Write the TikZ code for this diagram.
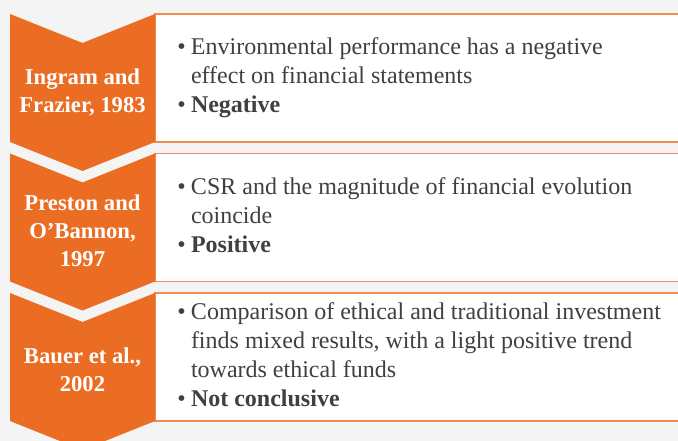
\documentclass[tikz,border=0pt]{standalone}
\usepackage{fontspec}
\setmainfont{Liberation Serif}
\usetikzlibrary{positioning}
\definecolor{litorange}{HTML}{EB6D24}
\definecolor{litline}{HTML}{F08C50}
\definecolor{litgrey}{HTML}{F4F4F4}
\definecolor{littext}{HTML}{404040}
\newcommand{\bul}{\textbullet}
\tikzset{
    chev/.style={fill=litorange},
    card/.style={draw=litline,line width=1.1pt,fill=white},
    who/.style={text=white,font=\fontsize{17}{21}\selectfont\bfseries,align=center,inner sep=0pt},
    finding/.style={text=littext,font=\fontsize{18}{21.75}\selectfont,anchor=west,inner sep=0pt},
}

\begin{document}
\begin{tikzpicture}[x=0.75pt,y=-0.75pt]
    \fill[litgrey] (0,0) rectangle (678,441);
    \useasboundingbox (0,0) rectangle (678,441);
    \clip (0,0) rectangle (678,441);

    % white result cards, open to the right
    \draw[card] (155,14) rectangle (700,142);
    \draw[card] (155,153.5) rectangle (700,281.5);
    \draw[card] (155,293) rectangle (700,421);

    % orange chevrons
    \fill[chev] (10,14) -- (82.5,43) -- (155,14) -- (155,142) -- (82.5,171) -- (10,142) -- cycle;
    \fill[chev] (10,153.5) -- (82.5,182.5) -- (155,153.5) -- (155,281.5) -- (82.5,310.5) -- (10,281.5) -- cycle;
    \fill[chev] (10,293) -- (82.5,322) -- (155,293) -- (155,421) -- (82.5,450) -- (10,421) -- cycle;

    \node[who] (ingram) at (82.5,92) {Ingram and\\Frazier, 1983};
    \node[who] (preston) at (82.5,231) {Preston and\\O’Bannon,\\1997};
    \node[who] (bauer) at (82.5,370) {Bauer et al.,\\2002};

    \node[finding] (neg) at (177,78) {\begin{tabular}{@{}l@{\hspace{4pt}}l@{}}
        \bul & Environmental performance has a negative\\
             & effect on financial statements\\
        \bul & \textbf{Negative}
    \end{tabular}};
    \node[finding] (pos) at (177,217.5) {\begin{tabular}{@{}l@{\hspace{4pt}}l@{}}
        \bul & CSR and the magnitude of financial evolution\\
             & coincide\\
        \bul & \textbf{Positive}
    \end{tabular}};
    \node[finding] (mix) at (177,357) {\begin{tabular}{@{}l@{\hspace{4pt}}l@{}}
        \bul & Comparison of ethical and traditional investment\\
             & finds mixed results, with a light positive trend\\
             & towards ethical funds\\
        \bul & \textbf{Not conclusive}
    \end{tabular}};
\end{tikzpicture}
\end{document}
